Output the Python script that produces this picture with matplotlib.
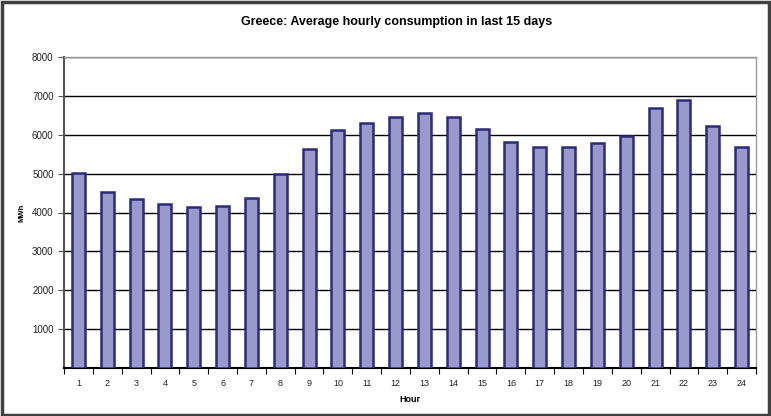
import numpy as np
import matplotlib.pyplot as plt
from matplotlib.patches import Rectangle

hours = list(range(1, 25))
mwh = [5020, 4535, 4340, 4210, 4135, 4175, 4375, 4980, 5625, 6115, 6295, 6465,
       6550, 6455, 6140, 5805, 5675, 5675, 5780, 5975, 6680, 6900, 6235, 5675]

plt.rcParams['font.family'] = ['Liberation Sans', 'DejaVu Sans']

fig = plt.figure(figsize=(7.71, 4.16), dpi=100)
ax = fig.add_axes([64/771, 48/416, 692/771, 311/416])

ax.bar(hours, mwh, width=0.45, color='#9999cc', edgecolor='#2b2b7a', linewidth=1.8, zorder=3)

ax.set_xlim(0.5, 24.5)
ax.set_ylim(0, 8000)
ax.set_yticks(np.arange(1000, 8001, 1000))
ax.yaxis.grid(True, color='black', linewidth=1, zorder=1)

# x ticks at category boundaries, labels at centres
ax.set_xticks(np.arange(0.5, 25, 1))
ax.set_xticklabels([])
ax.set_xticks(hours, minor=True)
ax.set_xticklabels([str(h) for h in hours], minor=True)
ax.tick_params(axis='x', which='major', length=4, direction='out', color='black')
ax.tick_params(axis='x', which='minor', length=0, pad=8, labelsize=6.5, labelcolor='#222222')
ax.tick_params(axis='y', length=4, direction='out', labelsize=7, labelcolor='#222222', color='#555555')

for s in ['top', 'right']:
    ax.spines[s].set_color('#999999')
    ax.spines[s].set_linewidth(1)
ax.spines['left'].set_color('#555555')
ax.spines['left'].set_linewidth(1.5)
ax.spines['bottom'].set_color('black')
ax.spines['bottom'].set_linewidth(1.5)

ax.set_xlabel('Hour', fontsize=6.5, fontweight='bold', labelpad=5)
ax.set_ylabel('MWh', fontsize=5.5, fontweight='bold', labelpad=5)
fig.text(0.514, 1 - 22/416, 'Greece: Average hourly consumption in last 15 days',
         ha='center', va='center', fontsize=9, fontweight='bold')

fig.patches.append(Rectangle((0.003, 0.002), 0.994, 0.994, transform=fig.transFigure,
                             fill=False, edgecolor='#404040', linewidth=2.5))

fig.savefig('out.png', dpi=100)
